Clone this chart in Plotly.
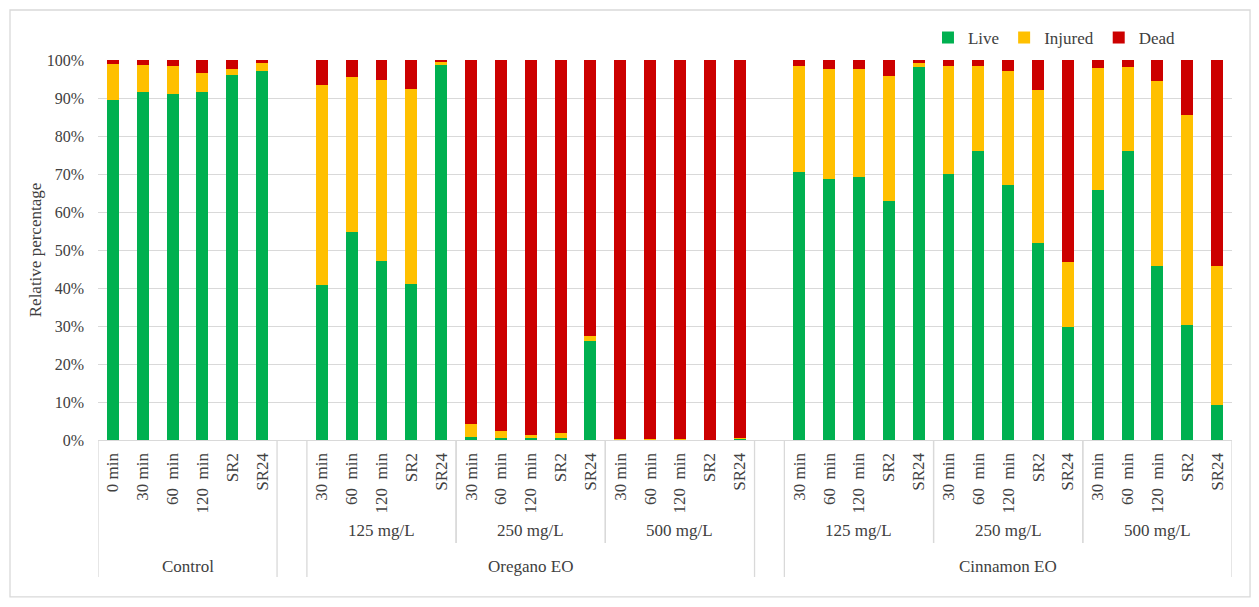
import plotly.graph_objects as go

# ---- data (percent) ----
time_control = ["0 min", "30 min", "60\u00a0 min", "120\u00a0 min", "SR2", "SR24"]
time_treat = ["30 min", "60\u00a0 min", "120\u00a0 min", "SR2", "SR24"]
concentrations = ["125 mg/L", "250 mg/L", "500 mg/L"]
groups = ["Control", "Oregano EO", "Cinnamon EO"]

control_live = [89.5, 91.5, 91.1, 91.5, 96.1, 97.1]
control_injured = [9.4, 7.1, 7.3, 5.2, 1.6, 2.2]
control_dead = [1.1, 1.4, 1.6, 3.3, 2.3, 0.7]

oregano_live = [[40.7, 54.8, 47.1, 41.1, 98.7],
                [0.9, 0.6, 0.6, 0.6, 26.0],
                [0.0, 0.0, 0.0, 0.0, 0.3]]
oregano_injured = [[52.7, 40.8, 47.6, 51.4, 0.8],
                   [3.3, 1.9, 0.8, 1.2, 1.5],
                   [0.2, 0.2, 0.2, 0.0, 0.3]]
oregano_dead = [[6.6, 4.4, 5.3, 7.5, 0.5],
                [95.8, 97.5, 98.6, 98.2, 72.5],
                [99.8, 99.8, 99.8, 100.0, 99.4]]

cinnamon_live = [[70.4, 68.8, 69.2, 62.9, 98.2],
                 [70.0, 76.0, 67.2, 51.8, 29.7],
                 [65.9, 76.0, 45.9, 30.3, 9.2]]
cinnamon_injured = [[28.0, 28.9, 28.5, 33.0, 1.1],
                    [28.4, 22.4, 29.9, 40.3, 17.1],
                    [32.1, 22.2, 48.7, 55.1, 36.7]]
cinnamon_dead = [[1.6, 2.3, 2.3, 4.1, 0.7],
                 [1.6, 1.6, 2.9, 7.9, 53.2],
                 [2.0, 1.8, 5.4, 14.6, 54.1]]

y_ticks = list(range(0, 101, 10))

# ---- build category axis ----
cats, ticktext = [], []
live, injured, dead = [], [], []
conc_spans = []   # (start, end, label)
group_spans = []  # (start, end, label)

def add(cid, label, l, i, d):
    cats.append(cid); ticktext.append(label)
    live.append(l); injured.append(i); dead.append(d)

s = len(cats)
for t, l, i, d in zip(time_control, control_live, control_injured, control_dead):
    add("Control|" + t, t, l, i, d)
group_spans.append((s, len(cats) - 1, groups[0]))
for g, (gl, gi, gd) in zip(groups[1:], [(oregano_live, oregano_injured, oregano_dead),
                                        (cinnamon_live, cinnamon_injured, cinnamon_dead)]):
    add("gap|" + g, "", None, None, None)
    gs = len(cats)
    for c, ll, ii, dd in zip(concentrations, gl, gi, gd):
        cs = len(cats)
        for t, l, i, d in zip(time_treat, ll, ii, dd):
            add(g + "|" + c + "|" + t, t, l, i, d)
        conc_spans.append((cs, len(cats) - 1, c))
    group_spans.append((gs, len(cats) - 1, g))

colors = {"Live": "#00B050", "Injured": "#FFC000", "Dead": "#CC0000"}
fig = go.Figure()
for name, vals in [("Live", live), ("Injured", injured), ("Dead", dead)]:
    fig.add_trace(go.Bar(x=cats, y=vals, name=name, marker_color=colors[name],
                         marker_line_width=0, width=0.4))

font_family = "Liberation Serif"
FS = 17
txt_col = "#404040"
grid_col = "#D9D9D9"

shapes = []
annotations = []
FULL = -0.3605
SHORT = -0.271
edges_full = set()
for a, b, _ in group_spans:
    edges_full.add(a - 0.5); edges_full.add(b + 0.5)
for e in sorted(edges_full):
    shapes.append(dict(type="line", xref="x", yref="paper", x0=e, x1=e, y0=0, y1=FULL,
                       line=dict(color=grid_col, width=1.3)))
for a, b, _ in conc_spans:
    for e in (a - 0.5, b + 0.5):
        if e not in edges_full:
            shapes.append(dict(type="line", xref="x", yref="paper", x0=e, x1=e, y0=0, y1=SHORT,
                               line=dict(color=grid_col, width=1.3)))
for a, b, lab in conc_spans:
    annotations.append(dict(x=(a + b) / 2, y=-0.239, xref="x", yref="paper", text=lab,
                            yanchor="middle", showarrow=False,
                            font=dict(family=font_family, size=FS, color=txt_col)))
for a, b, lab in group_spans:
    annotations.append(dict(x=(a + b) / 2, y=-0.334, xref="x", yref="paper", text=lab,
                            yanchor="middle", showarrow=False,
                            font=dict(family=font_family, size=FS, color=txt_col)))
shapes.append(dict(type="rect", xref="paper", yref="paper", x0=-0.0776, x1=1.0159,
                   y0=-0.413, y1=1.1316, line=dict(color=grid_col, width=1.3)))

fig.update_layout(
    width=1259, height=607,
    margin=dict(l=98, r=27, t=60, b=167),
    barmode="stack",
    plot_bgcolor="white", paper_bgcolor="white",
    font=dict(family=font_family, size=FS, color=txt_col),
    legend=dict(orientation="h", x=0.955, xanchor="right", y=1.058, yanchor="middle",
                font=dict(family=font_family, size=FS, color=txt_col), itemwidth=30,
                traceorder="normal"),
    shapes=shapes, annotations=annotations,
    xaxis=dict(type="category", categoryorder="array", categoryarray=cats,
               tickmode="array", tickvals=cats, ticktext=ticktext, tickangle=-90,
               showgrid=False, showline=True, linecolor=grid_col, linewidth=1.3,
               ticks="", ticklabelstandoff=5, range=[-0.5, len(cats) - 0.5],
               tickfont=dict(family=font_family, size=FS, color=txt_col)),
    yaxis=dict(range=[0, 100], tickvals=y_ticks, ticktext=[f"{v}%" for v in y_ticks],
               showgrid=True, gridcolor=grid_col, gridwidth=1.3, zeroline=False,
               ticks="", ticklabelstandoff=13,
               title=dict(text="Relative percentage", standoff=0,
                          font=dict(family=font_family, size=FS, color=txt_col)),
               tickfont=dict(family=font_family, size=16, color=txt_col)),
    bargap=0.6,
)
fig.write_html("out.html")
